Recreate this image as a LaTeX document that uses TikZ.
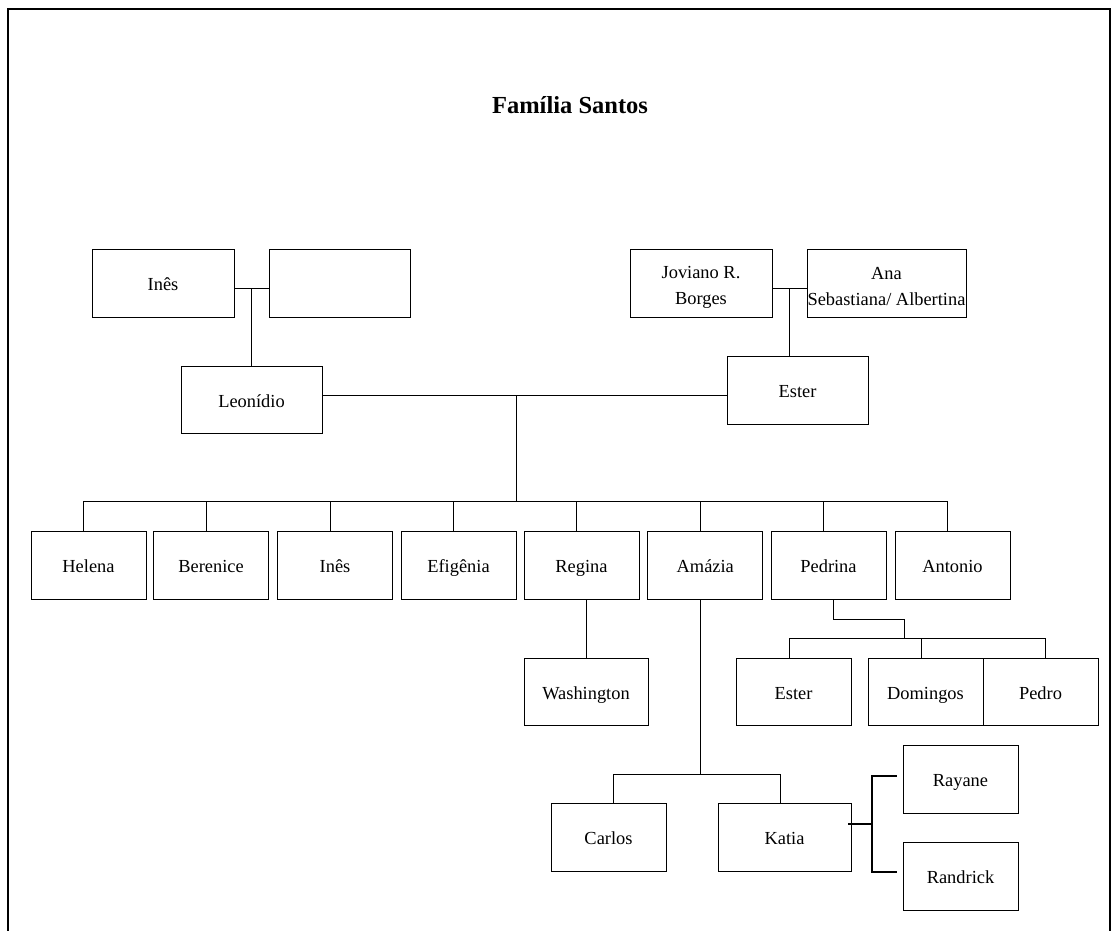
\documentclass[tikz,border=0pt]{standalone}
\usepackage{fontspec}
\setmainfont{Liberation Serif}
\usetikzlibrary{calc}
\begin{document}
\begin{tikzpicture}[x=1pt,y=-1pt,
  txt/.style={inner sep=0pt, align=center, font=\fontsize{18.4}{26}\selectfont},
  box/.style={draw, line width=0.9pt, txt, text height=17pt, text depth=2pt},
  box2/.style={draw, line width=0.9pt, inner sep=0pt},
  wh/.style 2 args={minimum width=#1pt, minimum height=#2pt},
  conn/.style={line width=0.9pt},
  brk/.style={line width=1.6pt}]
\useasboundingbox (0,0) rectangle (1117,931);
% frame
\draw[line width=2pt] (8,940) -- (8,9) -- (1110,9) -- (1110,940);
% title
\node[font=\fontsize{24.5}{30}\selectfont\bfseries, anchor=base] (title) at (570,114) {Família Santos};
% grandparents
\node[box, wh={142}{68}] (ines0) at (163,283) {Inês};
\node[box, wh={141}{68}] (blank) at (339.5,283) {};
\node[box2, wh={142}{68}, label={[txt, yshift=-4pt]center:{Joviano R.\\Borges}}] (jov) at (701,283) {};
\node[box2, wh={159}{68}, label={[txt, yshift=-4pt]center:{Ana\\Sebastiana/ Albertina}}] (ana) at (886.5,283) {};
% parents
\node[box, wh={141}{67}] (leon) at (251.5,399.5) {Leonídio};
\node[box, wh={141}{68}] (ester) at (797.5,390) {Ester};
% children
\node[box, wh={115}{68}] (helena) at (88.5,565) {Helena};
\node[box, wh={115}{68}] (berenice) at (211,565) {Berenice};
\node[box, wh={115}{68}] (ines) at (335,565) {Inês};
\node[box, wh={115}{68}] (efigenia) at (458.5,565) {Efigênia};
\node[box, wh={115}{68}] (regina) at (581.5,565) {Regina};
\node[box, wh={115}{68}] (amazia) at (705.25,565) {Amázia};
\node[box, wh={115}{68}] (pedrina) at (828.5,565) {Pedrina};
\node[box, wh={115}{68}] (antonio) at (952.5,565) {Antonio};
% grandchildren
\node[box, wh={124}{67}] (wash) at (586,691.5) {Washington};
\node[box, wh={115}{67}] (ester2) at (793.5,691.5) {Ester};
\node[box, wh={115}{67}] (domingos) at (925.5,691.5) {Domingos};
\node[box, wh={115}{67}] (pedro) at (1040.5,691.5) {Pedro};
\node[box, wh={115}{68}] (carlos) at (608.5,837) {Carlos};
\node[box, wh={133}{68}] (katia) at (784.5,837) {Katia};
\node[box, wh={115}{68}] (rayane) at (960.5,779) {Rayane};
\node[box, wh={115}{68}] (randrick) at (960.5,876) {Randrick};
% junction coordinates
\coordinate (j1) at (251,288);
\coordinate (j2) at (789,288);
\coordinate (m) at (516,395);
\coordinate (bus) at (516,501);
% grandparents couples
\draw[conn] ($(ines0.east)+(0,5)$) -- ($(blank.west)+(0,5)$);
\draw[conn] (j1) -- (j1 |- leon.north);
\draw[conn] ($(jov.east)+(0,5)$) -- ($(ana.west)+(0,5)$);
\draw[conn] (j2) -- (j2 |- ester.north);
% parents couple
\draw[conn] ($(leon.east)+(0,-4.5)$) -- ($(ester.west)+(0,5)$);
\draw[conn] (m) -- (bus);
\draw[conn] (84,501) -- (948,501);
\foreach \c in {helena,berenice,ines,efigenia,regina,amazia,pedrina,antonio}
  \draw[conn] ($(\c.north west)+(53,0)$) -- ++(0,-30);
% Regina -> Washington
\draw[conn] (wash.north) -- (wash.north |- regina.south);
% Amazia -> Carlos, Katia
\draw[conn] ($(amazia.south west)+(53.5,0)$) -- ++(0,175);
\draw[conn] (613,774) -- (780,774);
\draw[conn] ($(carlos.north)+(4.5,0)$) -- ++(0,-29);
\draw[conn] ($(katia.north)+(-4.5,0)$) -- ++(0,-29);
% Pedrina -> Ester, Domingos, Pedro
\draw[conn] ($(pedrina.south)+(4.5,0)$) -- ++(0,20) -| (904,638);
\draw[conn] (789,638) -- (1045,638);
\draw[conn] ($(ester2.north)+(-4.5,0)$) -- ++(0,-20);
\draw[conn] ($(domingos.north)+(-4.5,0)$) -- ++(0,-20);
\draw[conn] ($(pedro.north)+(4.5,0)$) -- ++(0,-20);
% Katia -> Rayane, Randrick
\coordinate (kb) at (872,824);
\draw[brk] ($(katia.east)+(-3,-13)$) -- (kb);
\draw[brk] ($(rayane.west)+(-6,-3)$) -- (kb |- 0,776) -- (kb |- 0,872) -- ($(randrick.west)+(-6,-4)$);
\end{tikzpicture}
\end{document}
